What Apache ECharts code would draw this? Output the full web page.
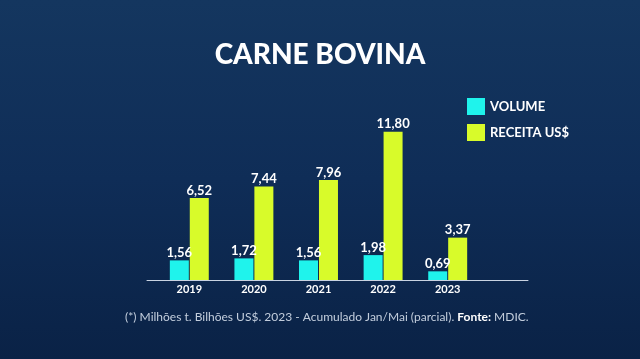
<!DOCTYPE html>
<html>
<head>
<meta charset="utf-8">
<script src="https://cdn.jsdelivr.net/npm/echarts@6/dist/echarts.min.js"></script>
<style>
html,body{margin:0;padding:0;width:640px;height:359px;overflow:hidden;}
#c{width:640px;height:359px;}
</style>
</head>
<body>
<div id="c"></div>
<script>
var categories = ['2019', '2020', '2021', '2022', '2023'];
var volume = [1.56, 1.72, 1.56, 1.98, 0.69];
var receita = [6.52, 7.44, 7.96, 11.80, 3.37];
var seriesNames = ['VOLUME', 'RECEITA US$'];
var titleText = 'CARNE BOVINA';
var footnote = '(*) Milhões t. Bilhões US$. 2023 - Acumulado Jan/Mai (parcial). ';
var footSource = 'Fonte:';
var footSourceName = ' MDIC.';

var chart = echarts.init(document.getElementById('c'), null, {renderer: 'canvas'});
var fmt = function (p) { return p.value.toFixed(2).replace('.', ','); };
var labelStyle = {
  show: true, position: 'top', distance: 1, color: '#ffffff',
  fontFamily: 'Lato', fontWeight: 700, fontSize: 13, formatter: fmt
};
chart.setOption({
  backgroundColor: {
    type: 'linear', x: 0, y: 0, x2: 0, y2: 1,
    colorStops: [
      {offset: 0, color: '#14365f'},
      {offset: 0.5, color: '#0f2d57'},
      {offset: 1, color: '#0a2246'}
    ]
  },
  title: {
    text: titleText, left: 'center', top: 36,
    textStyle: {color: '#ffffff', fontFamily: 'Lato', fontWeight: 900, fontSize: 28}
  },
  legend: {
    data: seriesNames, orient: 'vertical', left: 462, top: 93,
    itemWidth: 18, itemHeight: 17, itemGap: 9, icon: 'rect',
    textStyle: {color: '#ffffff', fontFamily: 'Lato', fontWeight: 700, fontSize: 13, padding: [0, 0, 0, 0]}
  },
  grid: [
    {left: 157, right: 160, top: 104, height: 176},
    {left: 147, width: 381, top: 280, height: 0}
  ],
  xAxis: [
    {
      type: 'category', data: categories, gridIndex: 0,
      axisLine: {show: false}, axisTick: {show: false},
      axisLabel: {color: '#ffffff', fontFamily: 'Lato', fontWeight: 700, fontSize: 11, margin: 4}
    },
    {
      type: 'value', gridIndex: 1, min: 0, max: 1,
      axisLine: {show: true, lineStyle: {color: '#c9d3e2', width: 1}},
      axisTick: {show: false}, axisLabel: {show: false}, splitLine: {show: false}
    }
  ],
  yAxis: [
    {type: 'value', gridIndex: 0, min: 0, max: 14, show: false},
    {type: 'value', gridIndex: 1, show: false}
  ],
  series: [
    {
      name: seriesNames[0], type: 'bar', data: volume, barWidth: 19, barGap: '5%',
      itemStyle: {color: '#1ff3ec'}, label: labelStyle
    },
    {
      name: seriesNames[1], type: 'bar', data: receita, barWidth: 19, barGap: '5%',
      itemStyle: {color: '#d8fb2a'}, label: labelStyle
    }
  ],
  graphic: [
    {
      type: 'text', left: 125, top: 311,
      style: {
        text: '{n|' + footnote + '}{b|' + footSource + '}{n|' + footSourceName + '}',
        rich: {
          n: {fill: '#c3cedd', fontFamily: 'Lato', fontSize: 12},
          b: {fill: '#ffffff', fontFamily: 'Lato', fontWeight: 700, fontSize: 12}
        }
      }
    }
  ]
});
</script>
</body>
</html>
